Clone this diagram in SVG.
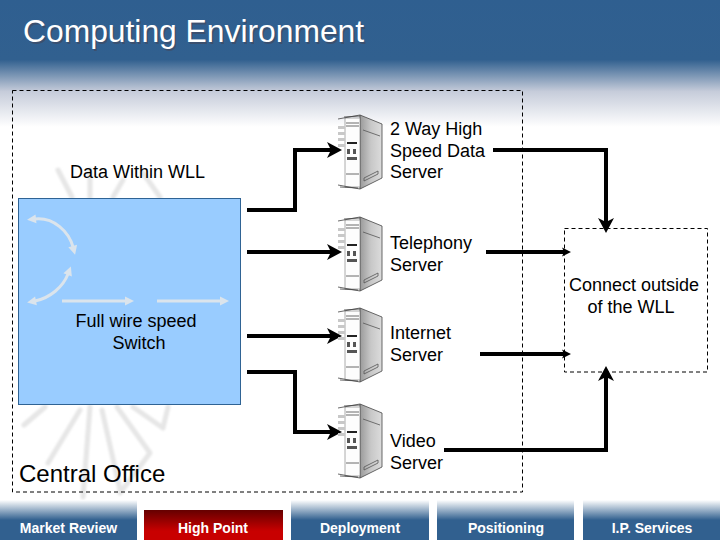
<svg xmlns="http://www.w3.org/2000/svg" width="720" height="540" viewBox="0 0 720 540">
<style>
text{font-family:"Liberation Sans",Arial,sans-serif;fill:#000}
.l{font-size:18px}
.tab{font-size:14px;font-weight:bold;fill:#fff;text-anchor:middle}
.c{fill:none;stroke:#000;stroke-width:4}
.d{fill:none;stroke:#000;stroke-width:1;stroke-dasharray:4 3}
.w{fill:none;stroke:#dbe4ec;stroke-width:3}
.r{stroke:#e6e6e6;stroke-width:5;fill:none;stroke-linejoin:round;stroke-linecap:round}
</style>
<defs>
<linearGradient id="hd" x1="0" y1="0" x2="0" y2="1"><stop offset="0" stop-color="#2f5f90"/><stop offset=".47" stop-color="#31608f"/><stop offset=".72" stop-color="#c6ccda"/><stop offset="1" stop-color="#fff"/></linearGradient>
<linearGradient id="tb" x1="0" y1="0" x2="0" y2="1"><stop offset="0" stop-color="#fff"/><stop offset=".5" stop-color="#31608f"/><stop offset="1" stop-color="#31608f"/></linearGradient>
<linearGradient id="rd" x1="0" y1="0" x2="0" y2="1"><stop offset="0" stop-color="#650000"/><stop offset=".7" stop-color="#c80000"/><stop offset="1" stop-color="#c80000"/></linearGradient>
<linearGradient id="sv" x1="0" y1="0" x2="1" y2="0"><stop offset="0" stop-color="#9a9a9a"/><stop offset=".5" stop-color="#c8c8c8"/><stop offset="1" stop-color="#dcdcdc"/></linearGradient>
<filter id="soft" x="-10%" y="-10%" width="120%" height="120%"><feGaussianBlur stdDeviation="1"/></filter>
<marker id="a" markerUnits="userSpaceOnUse" markerWidth="20" markerHeight="20" refX="9" refY="10" orient="auto"><path d="M1 2L16 10L1 18L5 10Z" fill="#000"/></marker>
<marker id="s" markerUnits="userSpaceOnUse" markerWidth="14" markerHeight="14" refX="5" refY="7" orient="auto"><path d="M1 2.500L10 7L1 11.500L3 7Z" fill="#000"/></marker>
<marker id="wa" markerUnits="userSpaceOnUse" markerWidth="12" markerHeight="12" refX="2" refY="6" orient="auto-start-reverse"><path d="M1 1.500L10 6L1 10.500Z" fill="#dbe4ec"/></marker>
<g id="srv">
<path d="M24 1L46 10V64L24 75Z" fill="url(#sv)" stroke="#444" stroke-width=".8"/>
<path d="M9 4H24V73H9Z" fill="#fdfdfd" stroke="#777" stroke-width=".6"/>
<path d="M2 5L24 1M8 3L24 2M2 71L24 75M4 73L22 74M10 9H23M10 12H23M10 60H23" fill="none" stroke="#444" stroke-width=".8"/>
<path d="M2 12H9V15H2ZM2 18H9V21H2ZM2 24H9V27H2ZM2 30H9V33H2Z" fill="#c8c8c8"/>
<path d="M11 28H21V30H11Z" fill="#222"/>
<path d="M11 35H14V40H11ZM17 35H20V40H17ZM11 43H21V46H11Z" fill="#555"/>
<path d="M28 64L42 57V60L28 67ZM27 16L44 22" fill="none" stroke="#555" stroke-width=".8"/>
</g>
</defs>
<rect width="720" height="540" fill="#fff"/>
<rect width="720" height="127" fill="url(#hd)"/>
<g id="burst" filter="url(#soft)">
<path class="r" d="M45 407L24 425M80 410L48 463M90 407L83 497M102 410L120 490M117 407L150 453L120 493M133 407L163 428L168 407M58 170L72 197M90 170V197M113 197L123 180M143 173L160 197"/>
</g>
<rect x="12.500" y="90.500" width="510" height="401.500" class="d"/>
<rect x="18.500" y="198.500" width="222" height="206" fill="#99ccff" stroke="#2f6394"/>
<g id="switch-arrows">
<path class="w" d="M35 219C54 217 69 232 73 247" marker-start="url(#wa)" marker-end="url(#wa)"/>
<path class="w" d="M35 301C50 298 63 287 68 274" marker-start="url(#wa)" marker-end="url(#wa)"/>
<path class="w" d="M62 301H126" marker-end="url(#wa)"/>
<path class="w" d="M157 301H221" marker-end="url(#wa)"/>
</g>
<g id="header"><text x="23" y="42" font-size="31.800" style="fill:#445;opacity:.55" transform="translate(1.500 1.500)">Computing Environment</text><text x="23" y="42" font-size="31.800" style="fill:#fff">Computing Environment</text></g>
<g id="connectors">
<path class="c" d="M247 210H295V150H335" marker-end="url(#a)"/>
<path class="c" d="M247 252H335" marker-end="url(#a)"/>
<path class="c" d="M247 336H335" marker-end="url(#a)"/>
<path class="c" d="M247 372H295V432H335" marker-end="url(#a)"/>
<path class="c" d="M493 150H606V226" marker-end="url(#a)"/>
<path class="c" d="M486 252H566" marker-end="url(#s)"/>
<path class="c" d="M480 354H566" marker-end="url(#s)"/>
<path class="c" d="M444 450H606V373" marker-end="url(#a)"/>
</g>
<g id="data-within"><text class="l" x="70" y="178">Data Within WLL</text></g>
<g id="full-wire-switch"><text class="l" x="136" y="327" text-anchor="middle">Full wire speed</text><text class="l" x="139" y="349" text-anchor="middle">Switch</text></g>
<g id="central-office"><text x="19" y="482" font-size="24">Central Office</text></g>
<g id="server-data"><use href="#srv" x="336" y="114"/><text class="l" x="390" y="135">2 Way High</text><text class="l" x="390" y="157">Speed Data</text><text class="l" x="390" y="178">Server</text></g>
<g id="server-telephony"><use href="#srv" x="336" y="216"/><text class="l" x="390" y="249">Telephony</text><text class="l" x="390" y="271">Server</text></g>
<g id="server-internet"><use href="#srv" x="336" y="307"/><text class="l" x="390" y="339">Internet</text><text class="l" x="390" y="361">Server</text></g>
<g id="server-video"><use href="#srv" x="336" y="403"/><text class="l" x="390" y="447">Video</text><text class="l" x="390" y="469">Server</text></g>
<g id="connect-outside"><rect x="564.500" y="228.500" width="143" height="143.500" class="d"/><text class="l" x="634" y="291" text-anchor="middle">Connect outside</text><text class="l" x="631" y="313" text-anchor="middle">of the WLL</text></g>
<g id="nav">
<rect x="0" y="500" width="137" height="40" fill="url(#tb)"/>
<rect x="144" y="510" width="139" height="30" fill="url(#rd)"/>
<rect x="291" y="500" width="138" height="40" fill="url(#tb)"/>
<rect x="437" y="500" width="137" height="40" fill="url(#tb)"/>
<rect x="583" y="500" width="137" height="40" fill="url(#tb)"/>
<text class="tab" x="68.500" y="533">Market Review</text>
<text class="tab" x="213" y="533">High Point</text>
<text class="tab" x="360" y="533">Deployment</text>
<text class="tab" x="506" y="533">Positioning</text>
<text class="tab" x="652" y="533">I.P. Services</text>
</g>
</svg>
